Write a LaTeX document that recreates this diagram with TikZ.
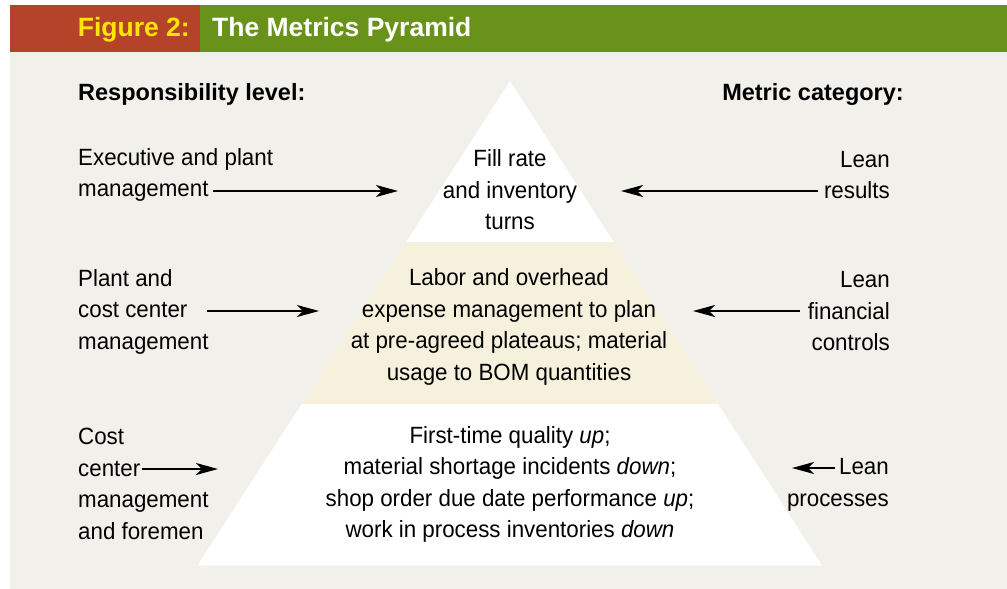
\documentclass[tikz,border=0pt]{standalone}
\usepackage{fontspec}
\setmainfont{Liberation Sans}
\newfontfamily\bodyfont{Liberation Sans}[FakeStretch=0.95]
\usetikzlibrary{arrows.meta}

\definecolor{panelgrey}{HTML}{F1F0EA}
\definecolor{bandbeige}{HTML}{F6F1DD}
\definecolor{headred}{HTML}{B5432A}
\definecolor{headgreen}{HTML}{69921A}
\definecolor{headyellow}{HTML}{FFE600}

\tikzset{
  body/.style={inner sep=0pt, font=\bodyfont\fontsize{23.5}{31.5}\selectfont},
  lefttext/.style={body, align=left, anchor=west},
  righttext/.style={body, align=right, anchor=east},
  pyrtext/.style={body, align=center},
  heading/.style={inner sep=0pt, font=\fontsize{23.5}{28}\selectfont\bfseries},
  headtitle/.style={inner sep=0pt, font=\fontsize{26.5}{30}\selectfont\bfseries},
  pointer/.style={line width=1.2pt, -{Stealth[length=22pt,width=12pt,inset=6pt]}},
}

\begin{document}
\begin{tikzpicture}[x=1pt,y=-1pt]
  \useasboundingbox (0,0) rectangle (1007,589);

  % panel and title bar
  \fill[panelgrey] (10,52) rectangle (1007,589);
  \fill[headred] (10,5) rectangle (200,52);
  \fill[headgreen] (200,5) rectangle (1007,52);
  \node[headtitle, text=headyellow, anchor=east] (fig) at (190,29.5) {Figure 2:};
  \node[headtitle, text=white, anchor=west] (title) at (212,29.5) {The Metrics Pyramid};

  % pyramid: white triangle with a beige middle band
  \fill[white] (510,81) -- (822,565.5) -- (197.5,565.5) -- cycle;
  \fill[bandbeige] (406.2,242) -- (613.7,242) -- (718,404) -- (301.7,404) -- cycle;

  % column headings
  \node[heading, anchor=west] (resp) at (78,94) {Responsibility level:};
  \node[heading, anchor=east] (metric) at (904,94) {Metric category:};

  % responsibility levels
  \node[lefttext] (exec) at (78,175) {Executive and plant\\management};
  \node[lefttext] (plant) at (78,311.5) {Plant and\\cost center\\management};
  \node[lefttext] (cost) at (78,484) {Cost\\center\\management\\and foremen};

  % metric categories
  \node[righttext] (results) at (890,175) {Lean\\results};
  \node[righttext] (financial) at (890,311.5) {Lean\\financial\\controls};
  \node[righttext] (processes) at (889,485) {Lean\\processes};

  % pyramid levels
  \node[pyrtext] (top) at (510,190) {Fill rate\\and inventory\\turns};
  \node[pyrtext] (mid) at (509,327) {Labor and overhead\\expense management to plan\\at pre-agreed plateaus; material\\usage to BOM quantities};
  \node[pyrtext] (low) at (510,484.5) {First-time quality \textit{up};\\material shortage incidents \textit{down};\\shop order due date performance \textit{up};\\work in process inventories \textit{down}};

  % pointer end points
  \coordinate (execA) at (213,191);
  \coordinate (execB) at (398,191);
  \coordinate (resA) at (818,191);
  \coordinate (resB) at (621,191);
  \coordinate (plantA) at (207,311);
  \coordinate (plantB) at (319,311);
  \coordinate (finA) at (800,311);
  \coordinate (finB) at (693,311);
  \coordinate (costA) at (142,469);
  \coordinate (costB) at (218,469);
  \coordinate (procA) at (835,468);
  \coordinate (procB) at (792,468);

  \draw[pointer] (execA) -- (execB);
  \draw[pointer] (resA) -- (resB);
  \draw[pointer] (plantA) -- (plantB);
  \draw[pointer] (finA) -- (finB);
  \draw[pointer] (costA) -- (costB);
  \draw[pointer] (procA) -- (procB);
\end{tikzpicture}
\end{document}
